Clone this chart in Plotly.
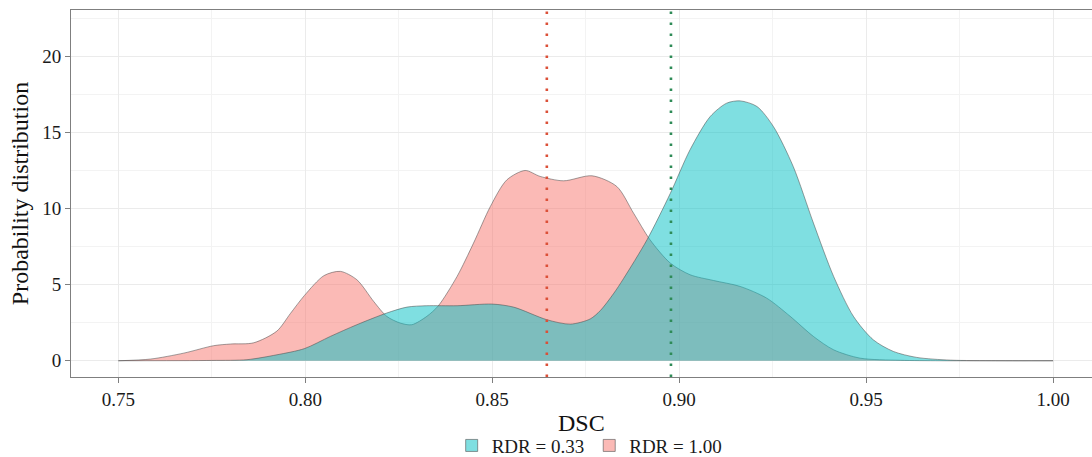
import plotly.graph_objects as go

# RDR = 1.00 density
pink_x = [0.75, 0.7586, 0.7675, 0.7755, 0.780, 0.7862, 0.7924, 0.796, 0.7998, 0.805,
          0.8094, 0.8138, 0.8183, 0.8218, 0.8254, 0.8285, 0.8325, 0.8356, 0.8406, 0.845,
          0.8495, 0.8539, 0.8588, 0.8628, 0.8691, 0.8767, 0.8833, 0.8878, 0.8922,
          0.8976, 0.9029, 0.9092, 0.9163, 0.9234, 0.9297, 0.9359, 0.9413, 0.9484, 0.9591,
          0.97, 1.0]
pink_y = [0, 0.11, 0.5, 0.99, 1.1, 1.18, 1.95, 3.1, 4.3, 5.6,
          5.88, 5.33, 3.9, 2.92, 2.48, 2.37, 2.92, 3.62, 5.55, 7.74,
          10.15, 11.9, 12.52, 12.13, 11.84, 12.17, 11.47, 9.71, 7.96,
          6.43, 5.66, 5.28, 4.89, 4.12, 2.92, 1.6, 0.72, 0.17, 0.03,
          0.0, 0]

# RDR = 0.33 density
cyan_x = [0.75, 0.775, 0.7844, 0.7924, 0.7998, 0.8067, 0.8138, 0.8218, 0.8272, 0.8325,
          0.8406, 0.8499, 0.8557, 0.8646, 0.8709, 0.8762, 0.8789, 0.8824, 0.8851, 0.8914, 0.8976, 0.9029,
          0.9083, 0.9127, 0.9163, 0.9208, 0.9252, 0.9305, 0.9359, 0.9413, 0.9466, 0.9519,
          0.9573, 0.9635, 0.9725, 0.985, 1.0]
cyan_y = [0, 0.02, 0.07, 0.39, 0.8, 1.6, 2.37, 3.14, 3.53, 3.62,
          3.62, 3.73, 3.53, 2.7, 2.41, 2.75, 3.3, 4.4, 5.4, 7.96, 11.0, 13.88,
          16.07, 16.95, 17.1, 16.73, 15.41, 12.78, 9.06, 5.55, 2.92, 1.38,
          0.61, 0.22, 0.04, 0.005, 0]

series_names = ["RDR = 0.33", "RDR = 1.00"]
mean_lines = [0.8646, 0.8978]   # RDR=1.00 mean, RDR=0.33 mean
mean_colors = ["#DB5038", "#2E8B57"]

x_ticks = [0.75, 0.80, 0.85, 0.90, 0.95, 1.00]
x_ticklabels = ["0.75", "0.80", "0.85", "0.90", "0.95", "1.00"]
y_ticks = [0, 5, 10, 15, 20]
x_title = "DSC"
y_title = "Probability distribution"

FONT = "Liberation Serif"
PINK_FILL = "rgba(248,118,109,0.5)"
CYAN_FILL = "rgba(0,191,196,0.5)"
OUTLINE = "rgba(70,70,70,0.85)"

fig = go.Figure()
fig.add_trace(go.Scatter(x=pink_x, y=pink_y, mode="lines", fill="tozeroy",
                         fillcolor=PINK_FILL, line=dict(color=OUTLINE, width=0.6, shape="spline", smoothing=0.8),
                         showlegend=False, hoverinfo="skip"))
fig.add_trace(go.Scatter(x=cyan_x, y=cyan_y, mode="lines", fill="tozeroy",
                         fillcolor=CYAN_FILL, line=dict(color=OUTLINE, width=0.6, shape="spline", smoothing=0.8),
                         showlegend=False, hoverinfo="skip"))

# legend keys
for name, col in zip(series_names, [CYAN_FILL, PINK_FILL]):
    fig.add_trace(go.Bar(x=[None], y=[None], name=name,
                         marker=dict(color=col, line=dict(color="rgba(90,90,90,0.8)", width=0.8))))

for xv, col in zip(mean_lines, mean_colors):
    fig.add_shape(type="line", x0=xv, x1=xv, xref="x", y0=0, y1=1, yref="paper",
                  line=dict(color=col, width=2.6, dash="2.4px,8.6px"))

fig.add_annotation(text="(a)", x=0.365, xref="paper", y=1, yref="paper",
                   yanchor="bottom", yshift=7, showarrow=False,
                   font=dict(family=FONT, size=19, color="#222"))

# x-axis title placed explicitly
fig.add_annotation(text=x_title, x=0.5, xref="paper", xanchor="center",
                   y=-0.125, yref="paper", yanchor="middle", showarrow=False,
                   font=dict(family=FONT, size=24, color="#111"))

fig.update_layout(
    width=1092, height=457,
    margin=dict(l=71, r=0, t=10, b=80, autoexpand=False),
    paper_bgcolor="white", plot_bgcolor="white",
    font=dict(family=FONT, size=19, color="#1a1a1a"),
    legend=dict(orientation="h", x=0.54, xref="container", xanchor="center",
                y=0.025, yref="container", yanchor="middle",
                font=dict(family=FONT, size=19, color="#1a1a1a"), bgcolor="rgba(0,0,0,0)"),
    xaxis=dict(range=[0.73735, 1.0104], tickvals=x_ticks, ticktext=x_ticklabels,
               automargin=False,
               showline=True, linecolor="#7f7f7f", linewidth=1, mirror=True,
               ticks="outside", ticklen=5, tickcolor="#7f7f7f", tickwidth=1,
               showgrid=True, gridcolor="#ebebeb", gridwidth=1,
               minor=dict(dtick=0.025, tick0=0.725, showgrid=True, gridcolor="#f3f3f3", gridwidth=0.6),
               zeroline=False),
    yaxis=dict(range=[-1.07, 23.08], tickvals=y_ticks,
               automargin=False,
               showline=True, linecolor="#7f7f7f", linewidth=1,
               ticks="outside", ticklen=5, tickcolor="#7f7f7f", tickwidth=1,
               showgrid=True, gridcolor="#ebebeb", gridwidth=1,
               minor=dict(dtick=2.5, tick0=0, showgrid=True, gridcolor="#f3f3f3", gridwidth=0.6),
               zeroline=False,
               title=dict(text=y_title, font=dict(family=FONT, size=24, color="#111"), standoff=6)),
    showlegend=True,
)

fig.write_html("out.html")
